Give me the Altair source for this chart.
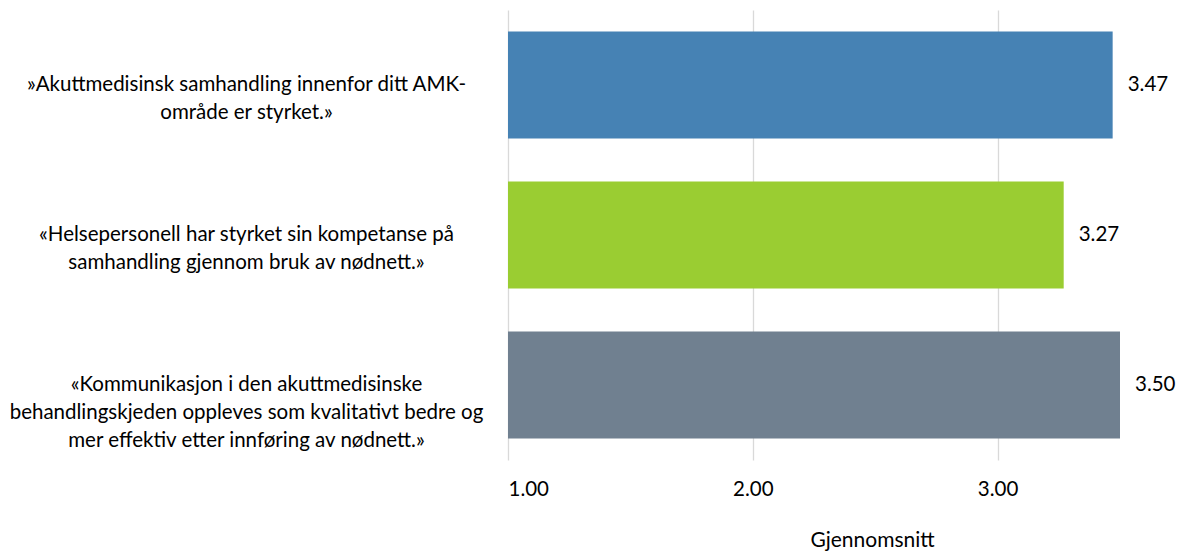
import altair as alt
import pandas as pd

# Statements (line breaks marked with "|") and their mean scores
statements = [
    "»Akuttmedisinsk samhandling innenfor ditt AMK-|område er styrket.»",
    "«Helsepersonell har styrket sin kompetanse på|samhandling gjennom bruk av nødnett.»",
    "«Kommunikasjon i den akuttmedisinske|behandlingskjeden oppleves som kvalitativt bedre og|mer effektiv etter innføring av nødnett.»",
]
means = [3.47, 3.27, 3.50]
colors = ["#4682B4", "#9ACD32", "#708090"]
x_ticks = [1.0, 2.0, 3.0]

df = pd.DataFrame({"statement": statements, "mean": means, "color": colors})

FONT = "Lato"

y_enc = alt.Y(
    "statement:N",
    sort=statements,
    title=None,
    scale=alt.Scale(paddingInner=0.287, paddingOuter=0.1435),
    axis=alt.Axis(
        ticks=False,
        domain=False,
        grid=False,
        labelAlign="center",
        labelBaseline="middle",
        labelPadding=262,
        labelLimit=600,
        labelFont=FONT,
        labelFontSize=20.5,
        labelColor="#000000",
        labelLineHeight=28,
        labelExpr="split(datum.label, '|')",
    ),
)

x_enc = alt.X(
    "mean:Q",
    scale=alt.Scale(domain=[1, 3.5], nice=False, zero=False),
    axis=alt.Axis(
        values=x_ticks,
        format=".2f",
        title="Gjennomsnitt",
        titleFont=FONT,
        titleFontSize=21,
        titleFontWeight="normal",
        titleColor="#000000",
        titleX=364,
        titleY=80,
        titleAlign="center",
        titleBaseline="middle",
        labelFont=FONT,
        labelFontSize=20.5,
        labelColor="#000000",
        labelPadding=19,
        ticks=False,
        domain=False,
        grid=True,
        gridColor="#d9d9d9",
        gridWidth=1.3,
    ),
)

bars = alt.Chart(df).mark_bar().encode(
    x=x_enc,
    x2=alt.datum(1),
    y=y_enc,
    color=alt.Color("color:N", scale=None),
)

values = alt.Chart(df).mark_text(
    align="left", baseline="middle", dx=15, font=FONT, fontSize=20.5, color="#000000"
).encode(
    x=x_enc,
    y=y_enc,
    text=alt.Text("mean:Q", format=".2f"),
)

chart = (
    alt.layer(bars, values)
    .properties(
        width=612,
        height=450,
        autosize=alt.AutoSizeParams(type="none"),
        padding={"left": 508, "top": 10, "right": 64, "bottom": 94},
        view=alt.ViewBackground(stroke="transparent", strokeWidth=0),
    )
    .configure_view(strokeWidth=0, stroke="transparent")
    .configure(background="#ffffff")
)

chart.save("out.html", embed_options={"renderer": "svg", "actions": False})
